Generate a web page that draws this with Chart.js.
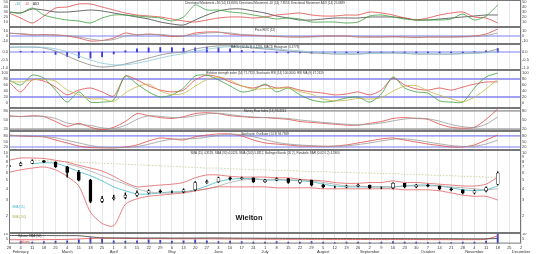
<!DOCTYPE html>
<html>
<head>
<meta charset="utf-8">
<script src="https://cdn.jsdelivr.net/npm/chart.js@4.4.0/dist/chart.umd.min.js"></script>
<style>
html, body { margin: 0; padding: 0; background: #fff; }
#wrap { position: relative; width: 536px; height: 254px; overflow: hidden; }
#wrap canvas { position: absolute; left: 0; }
</style>
</head>
<body>
<div id="wrap"></div>
<script>
// weekly samples, week 0 = 28 Jan 2013
const weeks = [0,1,2,3,4,5,6,7,8,9,10,11,12,13,14,15,16,17,18,19,20,21,22,23,24,25,26,27,28,29,30,31,32,33,34,35,36,37,38,39,40,41,42];
const dayLabels = ['28','4','11','18','25','4','11','18','25','1','8','15','22','29','6','13','20','27','3','10','17','24','1','8','15','22','29','5','12','19','26','2','9','16','23','30','7','14','21','28','4','11','18','25','2'];
const monthNames = ['February','March','April','May','June','July','August','September','October','November','December'];
const monthWeeks = [1,5,9,14,18,22,27,31,36,40,44];

// Directional movement
const dmiPlus  = [30,28,38,24,18,14,12,8,18,24,24,22,20,18,12,20,44,34,34,30,28,24,20,16,18,16,10,10,10,8,10,22,24,20,16,14,14,14,16,26,14,22,44];
const dmiMinus = [28,18,8,22,38,40,46,46,40,34,28,24,22,20,16,12,10,14,18,20,20,18,20,24,26,28,24,22,22,24,24,30,28,24,18,14,18,24,28,30,20,18,8];
const adx      = [30,28,36,34,30,30,32,34,32,28,24,20,16,10,6,4,14,24,32,36,36,32,28,22,18,14,14,16,18,18,18,20,20,20,18,14,14,16,18,20,22,24,24];

// Price ROC
const rocMain   = [6,4,2,3,2,0,-4,-10,-9,-4,6,2,4,2,-1,0,6,8,8,4,2,1,0,-1,-2,-2,-1,0,0,0,-2,-2,-2,-1,-2,-3,-2,-2,-2,-1,0,4,14];
const rocSignal = [5,5,3,2,2,1,-2,-6,-9,-7,0,3,3,3,1,0,3,6,7,6,3,2,1,0,-1,-2,-2,-1,0,0,-1,-2,-2,-2,-2,-2,-2,-2,-2,-2,-1,1,6];

// MACD
const macdLine   = [0.31,0.31,0.31,0.25,0.06,-0.25,-0.56,-0.81,-0.94,-0.88,-0.75,-0.56,-0.38,-0.19,-0.06,0,0.19,0.31,0.38,0.38,0.31,0.25,0.19,0.13,0.06,0,-0.06,-0.09,-0.13,-0.13,-0.13,-0.06,-0.06,-0.06,-0.09,-0.13,-0.13,-0.13,-0.13,-0.09,-0.06,0,0.19];
const macdSignal = [0.28,0.3,0.31,0.29,0.2,0.02,-0.25,-0.5,-0.7,-0.8,-0.8,-0.7,-0.55,-0.38,-0.22,-0.1,0.04,0.17,0.27,0.33,0.33,0.3,0.25,0.19,0.13,0.07,0.02,-0.03,-0.07,-0.1,-0.12,-0.1,-0.08,-0.07,-0.07,-0.09,-0.11,-0.12,-0.13,-0.11,-0.09,-0.05,0.05];
const macdHist   = [0.05,0.04,0.03,-0.02,-0.15,-0.28,-0.36,-0.38,-0.3,-0.12,0.08,0.2,0.26,0.28,0.27,0.24,0.26,0.3,0.28,0.2,0.1,0.03,-0.03,-0.05,-0.06,-0.06,-0.07,-0.07,-0.07,-0.06,-0.05,-0.04,-0.04,-0.04,-0.05,-0.06,-0.06,-0.06,-0.05,-0.04,0.02,0.08,0.22];

// RSI / stochastic RSI
const rsi      = [70,37,77,73,53,27,43,50,37,23,90,77,57,43,37,43,77,93,87,70,57,50,60,50,53,43,37,33,27,30,37,27,43,83,60,47,43,50,43,53,63,70,70];
const stochRsi = [77,60,93,83,43,3,37,3,3,10,90,63,37,20,27,50,90,93,77,57,37,43,63,37,50,27,10,3,7,17,20,3,30,87,50,37,33,7,3,3,50,87,100];
const stochRsiMa = [72,70,77,79,73,43,28,14,14,5,34,54,63,40,28,32,56,78,87,76,57,46,48,48,50,38,29,13,7,9,15,13,18,40,56,58,40,26,14,4,19,47,79];

// Money flow
const mfi    = [64,61,64,61,45,29,39,26,18,26,45,71,64,58,55,61,71,74,71,64,61,58,58,55,52,45,42,39,36,33,33,39,45,55,58,55,52,36,26,23,26,52,86];
const mfiMa  = [62,62,62,62,55,40,35,32,24,22,32,52,64,62,58,58,64,70,72,68,63,60,58,57,55,50,46,42,39,36,34,36,40,47,53,56,54,46,35,28,25,36,60];

// Stochastic oscillator
const stochK = [85,80,77,75,58,42,25,17,15,15,20,31,53,69,64,58,75,85,91,91,80,58,42,36,31,25,25,23,25,31,42,53,64,69,58,47,36,28,20,20,31,58,85];
const stochD = [82,82,79,77,70,56,42,28,19,16,17,22,35,51,62,64,66,73,84,89,87,76,60,45,36,31,27,24,24,26,33,42,53,62,64,58,47,37,28,23,24,36,58];

// Price
const opens  = [7.0,7.3,7.7,8.2,7.9,7.0,6.1,5.0,2.9,3.1,3.2,3.4,3.6,3.8,3.7,3.7,3.9,4.7,4.8,5.3,5.2,5.3,4.8,5.0,5.2,4.7,5.0,4.4,4.2,4.2,4.3,4.4,4.1,4.1,4.6,4.2,4.4,4.3,4.0,3.9,3.6,3.8,4.5];
const closes = [7.3,7.7,8.2,7.9,7.0,6.1,5.0,2.9,3.1,3.2,3.4,3.6,3.8,3.7,3.7,3.9,4.7,4.8,5.3,5.2,5.3,4.8,5.0,5.2,4.7,5.0,4.4,4.2,4.2,4.3,4.4,4.1,4.1,4.6,4.2,4.4,4.3,4.0,3.9,3.6,3.8,4.1,6.0];
const highs  = [7.5,7.9,8.4,8.3,8.0,7.1,6.4,5.1,3.3,3.4,3.6,3.8,3.9,3.9,3.8,4.0,4.8,5.0,5.4,5.4,5.4,5.3,5.1,5.3,5.2,5.1,5.0,4.5,4.3,4.4,4.5,4.4,4.2,4.7,4.6,4.5,4.5,4.3,4.1,3.9,3.9,4.2,6.2];
const lows   = [6.9,7.2,7.6,7.8,6.9,5.4,4.9,2.8,2.8,3.0,3.1,3.3,3.5,3.6,3.6,3.6,3.8,4.6,4.7,5.0,5.1,4.7,4.7,4.9,4.6,4.6,4.3,4.1,4.1,4.1,4.2,4.0,4.0,4.0,4.1,4.1,4.2,3.9,3.8,3.5,3.5,3.7,4.4];
const smaShort = [null,null,7.6,7.8,7.7,7.0,6.2,5.6,4.9,4.2,3.8,3.5,3.5,3.6,3.7,3.7,3.9,4.3,4.8,5.1,5.2,5.2,5.0,5.0,5.0,4.9,4.8,4.5,4.3,4.2,4.2,4.2,4.2,4.2,4.3,4.4,4.4,4.3,4.1,3.9,3.8,3.9,4.3];
const smaMid   = [null,null,null,null,null,7.6,7.0,6.3,5.6,5.0,4.5,4.0,3.7,3.6,3.6,3.7,3.8,4.0,4.3,4.7,5.0,5.1,5.1,5.1,5.0,5.0,4.9,4.7,4.5,4.3,4.3,4.2,4.2,4.2,4.3,4.3,4.3,4.3,4.2,4.1,4.0,3.9,4.0];
const smaLong  = [null,null,8.3,8.2,8.1,8.0,7.9,7.8,7.7,7.6,7.5,7.4,7.3,7.2,7.1,7.0,6.9,6.8,6.8,6.7,6.6,6.5,6.5,6.4,6.4,6.3,6.2,6.2,6.1,6.1,6.0,6.0,5.9,5.9,5.8,5.8,5.7,5.6,5.6,5.5,5.5,5.4,5.4];
const bbUpper  = [8.3,8.8,8.8,8.7,8.3,7.9,7.3,6.8,6.3,5.5,4.7,4.2,4.3,4.4,4.5,4.7,5.3,5.7,5.7,5.5,5.4,5.4,5.4,5.3,5.3,5.1,5.0,4.9,4.7,4.6,4.6,4.7,4.7,4.9,4.7,4.7,4.6,4.5,4.4,4.3,4.3,4.5,5.4];
const bbLower  = [6.1,6.5,6.8,7.0,6.5,5.5,4.3,2.2,1.65,1.55,2.7,3.1,3.3,3.4,3.5,3.6,3.8,4.0,4.2,4.2,4.2,4.2,4.2,4.1,4.1,4.1,4.1,4.0,4.0,4.0,4.0,4.0,4.0,4.0,3.9,3.9,3.9,3.8,3.6,3.4,3.3,3.3,3.0];

// Volume
const volume    = [1.5,2,1.5,2,2.5,3,4,6,5,3,2.5,3,4,3.5,2.5,3,4,3,2,2.5,2,1.5,1.5,2,1.5,1.5,2,1.5,1,1.5,1.5,1,1.5,2,1.5,1.5,1,1.5,1,1.5,1.5,2.5,9.5];
const volumeObv = [8.4,8.4,8.4,8.4,8.3,8.3,8.2,7.0,6.0,5.9,5.9,5.8,5.8,5.8,5.7,5.7,5.7,5.8,5.8,5.7,5.6,5.6,5.5,5.5,5.4,5.4,5.4,5.3,5.3,5.3,5.2,5.2,5.2,5.2,5.2,5.1,5.1,5.1,5.1,5.0,5.0,5.0,5.2];
const volumeMa  = [4.0,4.0,4.0,4.1,4.2,4.4,4.8,5.3,5.6,5.5,5.3,5.2,5.1,5.1,5.0,5.0,5.0,5.0,4.9,4.8,4.8,4.7,4.6,4.6,4.5,4.5,4.4,4.4,4.3,4.3,4.3,4.2,4.2,4.2,4.2,4.2,4.1,4.1,4.1,4.1,4.1,4.5,8.0];

// axis ticks
const dmiTicks = [10,20,30,40,50];
const rocTicks = [-10,0,10];
const macdTicks = [-1,-0.5,0];
const rsiTicks = [0,20,40,60,80,100];
const mfiTicks = [20,50,80];
const stochTicks = [20,50,80];
const priceTicks = [2,3,4,5,6,7,8,9,10];
const volTicks = [5,10];

const FONT = '"Liberation Sans", Arial, sans-serif';
Chart.defaults.font.family = FONT;

const RED = '#e04848', GREEN = '#3f9f3f', BLUE = '#8080f0', GREY = '#999';

const levelsPlugin = {
  id: 'levels',
  beforeDatasetsDraw(chart, args, opts) {
    if (!opts.values || !opts.values.length) return;
    const { ctx, chartArea: a } = chart;
    const y = chart.scales.y;
    ctx.save();
    ctx.strokeStyle = opts.color;
    ctx.lineWidth = opts.width;
    opts.values.forEach(v => {
      const py = y.getPixelForValue(v);
      ctx.beginPath();
      ctx.moveTo(a.left, py);
      ctx.lineTo(a.right, py);
      ctx.stroke();
    });
    ctx.restore();
  }
};

const framePlugin = {
  id: 'frame',
  afterDraw(chart) {
    const { ctx, chartArea: a } = chart;
    ctx.save();
    ctx.strokeStyle = '#777';
    ctx.lineWidth = 1;
    ctx.strokeRect(a.left + 0.5, a.top + 0.5, a.right - a.left - 1, a.bottom - a.top - 1);
    ctx.restore();
  }
};

const notesPlugin = {
  id: 'notes',
  afterDraw(chart, args, opts) {
    const { ctx, chartArea: a } = chart;
    ctx.save();
    ctx.textBaseline = 'middle';
    if (opts.title) {
      ctx.font = '3px ' + FONT;
      ctx.fillStyle = '#333';
      ctx.textAlign = 'center';
      ctx.fillText(opts.title, (a.left + a.right) / 2, a.top + 2.8);
    }
    (opts.items || []).forEach(it => {
      ctx.font = (it.bold ? 'bold ' : '') + (it.size || 3) + 'px ' + FONT;
      ctx.fillStyle = it.color;
      ctx.textAlign = it.align || 'left';
      ctx.fillText(it.text, a.left + it.x, a.top + it.y);
    });
    ctx.restore();
  }
};

function xAxis(showLabels) {
  const ax = {
    type: 'linear', min: 0, max: 44, offset: false,
    afterBuildTicks: s => { s.ticks = dayLabels.map((d, i) => ({ value: i })); },
    grid: { color: '#dddddd', lineWidth: 0.7, drawTicks: showLabels, tickLength: 2, offset: false },
    border: { display: false }
  };
  if (showLabels) {
    ax.ticks = {
      autoSkip: false, maxRotation: 0, padding: 0, color: '#333',
      font: { size: 4, lineHeight: 1.05 },
      callback: v => {
        const m = monthWeeks.indexOf(v);
        return m >= 0 ? [dayLabels[v], monthNames[m]] : dayLabels[v];
      }
    };
    ax.afterFit = s => { s.paddingLeft = 0; s.paddingRight = 0; };
  } else {
    ax.ticks = { display: false };
    ax.afterFit = s => { s.height = 0; s.paddingLeft = 0; s.paddingRight = 0; };
  }
  return ax;
}

function yAxis(side, min, max, ticks, type, fmt) {
  return {
    type: type || 'linear', position: side, min, max,
    grid: { display: false, drawTicks: false }, border: { display: false },
    afterBuildTicks: s => { s.ticks = ticks.map(v => ({ value: v })); },
    afterFit: s => { s.width = side === 'left' ? 9 : 15; s.paddingTop = 0; s.paddingBottom = 0; },
    ticks: { autoSkip: false, padding: 1, color: '#444', font: { size: 4 }, callback: fmt || (v => v) }
  };
}

function line(data, color, width, dash) {
  return { type: 'line', data, borderColor: color, borderWidth: width || 0.8, pointRadius: 0,
           tension: 0.25, borderDash: dash || [], fill: false, order: 2 };
}

function addPanel(top, height, datasets, yMin, yMax, ticks, extra) {
  const canvas = document.createElement('canvas');
  canvas.width = 536;
  canvas.height = height;
  canvas.style.top = top + 'px';
  document.getElementById('wrap').appendChild(canvas);
  return new Chart(canvas, {
    type: 'line',
    data: { labels: weeks, datasets },
    options: {
      responsive: false, animation: false, devicePixelRatio: 1,
      layout: { padding: 0, autoPadding: false },
      plugins: {
        legend: { display: false }, tooltip: { enabled: false },
        levels: extra.levels || {}, notes: extra.notes || {}
      },
      scales: {
        x: xAxis(!!extra.showX),
        y: yAxis('left', yMin, yMax, ticks, extra.type, extra.fmt),
        yR: yAxis('right', yMin, yMax, ticks, extra.type, extra.fmt)
      }
    },
    plugins: [levelsPlugin, framePlugin, notesPlugin]
  });
}

// 1. Directional movement
addPanel(0, 27, [
  line(dmiPlus, GREEN), line(dmiMinus, RED), line(adx, '#444')
], 0, 54, dmiTicks, {
  notes: {
    title: 'Directional Movement +DI (14) 43.6580, Directional Movement -DI (14) 7.8553, Directional Movement ADX (14) 25.6889',
    items: [
      { text: '+DI', color: '#2aa0b0', x: 6, y: 4 },
      { text: '-DI', color: RED, x: 16, y: 4 },
      { text: 'ADX', color: '#222', x: 24, y: 4 }
    ]
  }
});

// 2. Price ROC
addPanel(27, 17, [
  line(rocSignal, GREY), line(rocMain, RED)
], -16, 18, rocTicks, {
  levels: { values: [0], color: BLUE, width: 1.2 },
  notes: { title: 'Price ROC (12)' }
});

// 3. MACD
addPanel(44, 26, [
  { type: 'bar', data: macdHist, backgroundColor: '#3a3ad8', barThickness: 1.2, grouped: false, order: 3 },
  line(macdSignal, '#8cc8d8'), line(macdLine, '#888')
], -1.125, 0.5, macdTicks, {
  fmt: v => v.toFixed(1),
  levels: { values: [0], color: BLUE, width: 1.2 },
  notes: { title: 'MACD (12 26 9) 0.1285, MACD Histogram (0.1778)' }
});

// 4. RSI
addPanel(70, 38, [
  line(stochRsiMa, '#c8b848'), line(stochRsi, GREEN), line(rsi, RED)
], -16.7, 110, rsiTicks, {
  levels: { values: [20, 80], color: BLUE, width: 1.3 },
  notes: { title: 'Relative strength index (14) 71.7313, Stochastic RSI (14) 100.0000, RSI MA (9) 67.2619' }
});

// 5. Money flow
addPanel(108, 23, [
  line(mfiMa, GREY), line(mfi, RED)
], 13.7, 89.5, mfiTicks, {
  levels: { values: [20, 80], color: '#aaaaaa', width: 1.6 },
  notes: { title: 'Money Flow Index (14) 86.8241' }
});

// 6. Stochastic oscillator
addPanel(131, 19, [
  line(stochD, GREY), line(stochK, RED)
], 3.6, 107, stochTicks, {
  levels: { values: [20, 80], color: BLUE, width: 1.2 },
  notes: { title: 'Stochastic Oscillator (14 3) 94.7368' }
});

// 7. Price
addPanel(150, 83, [
  line(bbUpper, '#e06060', 0.8), line(bbLower, '#e06060', 0.8),
  line(smaLong, '#c8c898', 0.8, [1.5, 1.5]),
  line(smaMid, '#a8a8a8', 0.8), line(smaShort, '#40b8c8', 0.8),
  { type: 'bar', data: lows.map((l, i) => [l, highs[i]]), backgroundColor: '#000',
    barThickness: 0.8, grouped: false, order: 1 },
  { type: 'bar', data: opens.map((o, i) => [o, closes[i]]),
    backgroundColor: c => closes[c.dataIndex] >= opens[c.dataIndex] ? '#ffffff' : '#000000',
    borderColor: '#000', borderWidth: 0.6, borderSkipped: false,
    barThickness: 3, grouped: false, order: 0 }
], 1.29, 10.8, priceTicks, {
  type: 'logarithmic',
  notes: {
    title: 'SMA (15) 4.3529, SMA (30) 4.0126, SMA (200) 5.3812, Bollinger Bands (20 2), Parabolic SAR (0.02 0.2) 4.1960',
    items: [
      { text: 'SMA (15)', color: '#40b8c8', x: 3, y: 57 },
      { text: 'SMA (200)', color: '#b0b060', x: 3, y: 67 },
      { text: 'Wielton', color: '#111', x: 240, y: 68, size: 7.5, bold: true, align: 'center' }
    ]
  }
});

// 8. Volume
addPanel(233, 21, [
  { type: 'bar', data: volume, backgroundColor: '#4040d0', barThickness: 1.2, grouped: false, order: 3 },
  line(volumeObv, '#333', 0.8), line(volumeMa, RED, 0.8)
], 0, 11, volTicks, {
  showX: true,
  notes: {
    items: [
      { text: 'Volume SMA (50)', color: '#222', x: 9, y: 3 },
      { text: 'Volume', color: RED, x: 11, y: 9 }
    ]
  }
});
</script>
</body>
</html>
